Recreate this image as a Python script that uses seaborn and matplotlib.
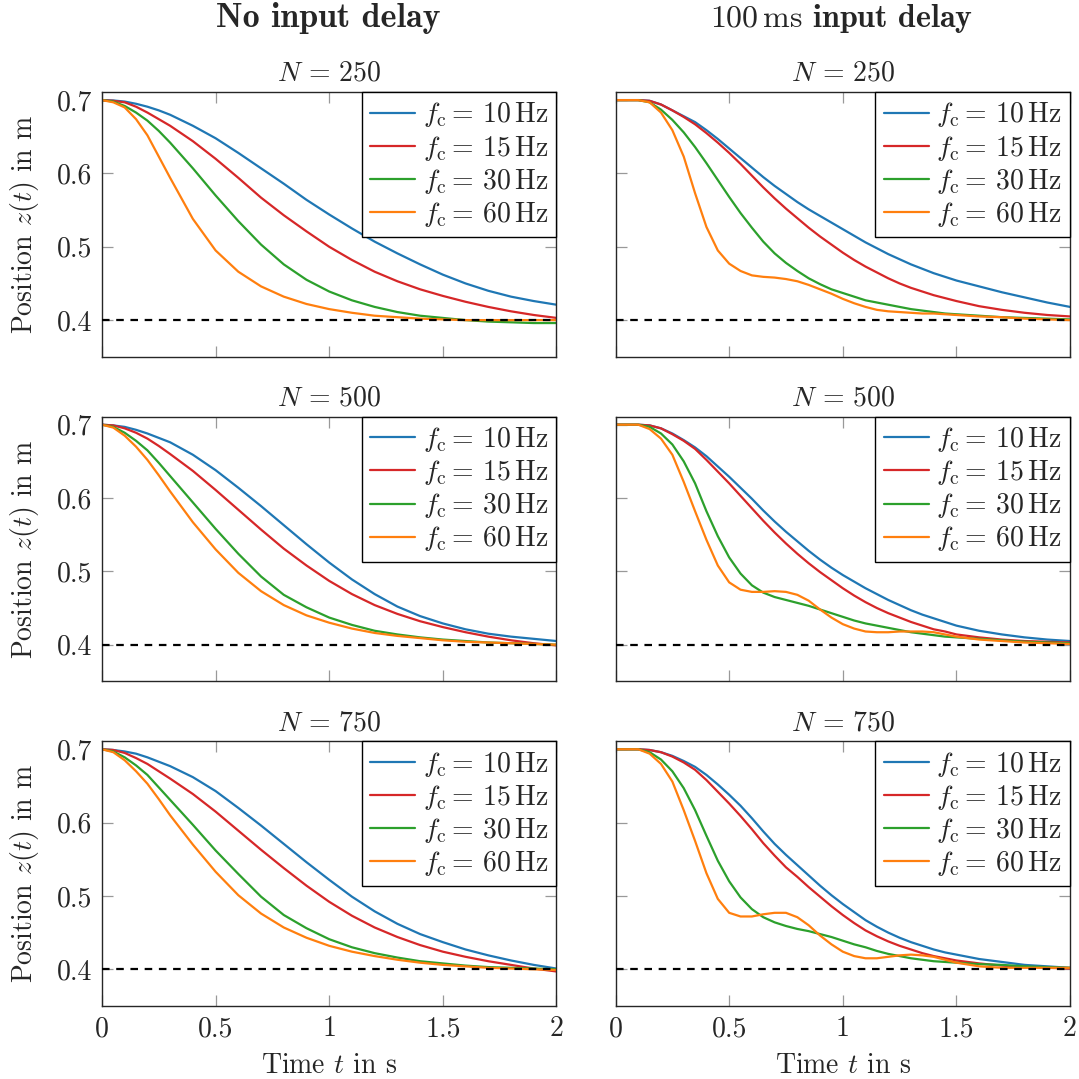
import matplotlib
matplotlib.use("Agg")
import matplotlib.pyplot as plt
import numpy as np
import pandas as pd
import seaborn as sb

# time grids (s)
t_nodelay = [0.0, 0.05, 0.1, 0.15, 0.2, 0.25, 0.3, 0.4, 0.5, 0.6, 0.7, 0.8, 0.9, 1.0,
             1.1, 1.2, 1.3, 1.4, 1.5, 1.6, 1.7, 1.8, 1.9, 2.0]
t_delay = [0.0, 0.05, 0.1, 0.15, 0.2, 0.25, 0.3, 0.35, 0.4, 0.45, 0.5,
           0.55, 0.6, 0.65, 0.7, 0.75, 0.8, 0.85, 0.9, 0.95, 1.0,
           1.05, 1.1, 1.15, 1.2, 1.25, 1.3, 1.35, 1.4, 1.45, 1.5,
           1.6, 1.7, 1.8, 1.9, 2.0]

freqs = [10, 15, 30, 60]
horizons = [250, 500, 750]
z_ref = 0.4

# no input delay
n250_f10 = [0.700, 0.6995, 0.698, 0.695, 0.691, 0.686, 0.680, 0.665, 0.648, 0.628, 0.607, 0.586,
            0.564, 0.544, 0.525, 0.507, 0.491, 0.476, 0.462, 0.450, 0.440, 0.432, 0.426, 0.421]
n250_f15 = [0.700, 0.699, 0.697, 0.691, 0.683, 0.674, 0.665, 0.644, 0.620, 0.594, 0.567, 0.543,
            0.521, 0.500, 0.482, 0.466, 0.453, 0.442, 0.433, 0.425, 0.418, 0.412, 0.407, 0.403]
n250_f30 = [0.700, 0.698, 0.692, 0.683, 0.672, 0.658, 0.642, 0.607, 0.570, 0.535, 0.503, 0.476,
            0.455, 0.439, 0.427, 0.418, 0.411, 0.406, 0.403, 0.400, 0.398, 0.397, 0.396, 0.396]
n250_f60 = [0.700, 0.697, 0.690, 0.674, 0.652, 0.623, 0.594, 0.538, 0.495, 0.466, 0.446, 0.432,
            0.422, 0.415, 0.410, 0.406, 0.404, 0.402, 0.401, 0.400, 0.400, 0.400, 0.400, 0.400]

n500_f10 = [0.700, 0.699, 0.697, 0.693, 0.688, 0.682, 0.676, 0.659, 0.638, 0.614, 0.589, 0.563,
            0.537, 0.512, 0.489, 0.469, 0.452, 0.439, 0.429, 0.421, 0.415, 0.411, 0.408, 0.405]
n500_f15 = [0.700, 0.699, 0.695, 0.689, 0.681, 0.671, 0.660, 0.637, 0.611, 0.584, 0.557, 0.531,
            0.508, 0.487, 0.469, 0.454, 0.442, 0.432, 0.424, 0.417, 0.411, 0.406, 0.402, 0.399]
n500_f30 = [0.700, 0.697, 0.689, 0.678, 0.665, 0.648, 0.630, 0.594, 0.558, 0.524, 0.493, 0.468,
            0.451, 0.437, 0.427, 0.419, 0.414, 0.410, 0.407, 0.405, 0.403, 0.402, 0.401, 0.400]
n500_f60 = [0.700, 0.696, 0.685, 0.670, 0.652, 0.631, 0.609, 0.567, 0.530, 0.498, 0.473, 0.454,
            0.440, 0.430, 0.422, 0.416, 0.412, 0.409, 0.406, 0.404, 0.403, 0.402, 0.401, 0.400]

n750_f10 = [0.700, 0.699, 0.697, 0.694, 0.689, 0.683, 0.677, 0.662, 0.643, 0.620, 0.596, 0.571,
            0.546, 0.522, 0.499, 0.479, 0.462, 0.448, 0.437, 0.427, 0.419, 0.412, 0.406, 0.401]
n750_f15 = [0.700, 0.699, 0.695, 0.688, 0.680, 0.670, 0.660, 0.639, 0.615, 0.589, 0.563, 0.538,
            0.514, 0.492, 0.473, 0.457, 0.444, 0.433, 0.424, 0.417, 0.411, 0.406, 0.401, 0.397]
n750_f30 = [0.700, 0.697, 0.689, 0.678, 0.665, 0.648, 0.631, 0.597, 0.562, 0.530, 0.499, 0.474,
            0.456, 0.441, 0.430, 0.422, 0.416, 0.411, 0.408, 0.405, 0.403, 0.402, 0.401, 0.400]
n750_f60 = [0.700, 0.696, 0.685, 0.670, 0.653, 0.632, 0.610, 0.570, 0.533, 0.501, 0.476, 0.457,
            0.443, 0.432, 0.424, 0.418, 0.413, 0.409, 0.406, 0.404, 0.402, 0.401, 0.400, 0.399]

# 100 ms input delay
d250_f10 = [0.700, 0.700, 0.700, 0.699, 0.694, 0.686, 0.678, 0.670, 0.659, 0.647, 0.634,
            0.621, 0.608, 0.595, 0.583, 0.572, 0.561, 0.551, 0.542, 0.533, 0.524,
            0.515, 0.506, 0.498, 0.490, 0.483, 0.476, 0.470, 0.464, 0.459, 0.454,
            0.446, 0.438, 0.431, 0.424, 0.418]
d250_f15 = [0.700, 0.700, 0.700, 0.699, 0.694, 0.686, 0.677, 0.667, 0.655, 0.642, 0.628,
            0.613, 0.597, 0.581, 0.566, 0.552, 0.539, 0.526, 0.514, 0.503, 0.492,
            0.482, 0.473, 0.465, 0.457, 0.450, 0.444, 0.439, 0.434, 0.430, 0.426,
            0.419, 0.414, 0.410, 0.407, 0.405]
d250_f30 = [0.700, 0.700, 0.700, 0.697, 0.687, 0.673, 0.656, 0.636, 0.614, 0.591, 0.568,
            0.546, 0.526, 0.507, 0.491, 0.478, 0.467, 0.457, 0.449, 0.442, 0.437,
            0.432, 0.427, 0.424, 0.421, 0.418, 0.415, 0.413, 0.411, 0.409, 0.408,
            0.406, 0.404, 0.403, 0.402, 0.401]
d250_f60 = [0.700, 0.700, 0.700, 0.697, 0.683, 0.659, 0.623, 0.573, 0.527, 0.495, 0.477,
            0.467, 0.461, 0.459, 0.458, 0.456, 0.453, 0.448, 0.442, 0.436, 0.429,
            0.423, 0.418, 0.414, 0.412, 0.411, 0.410, 0.409, 0.409, 0.408, 0.407,
            0.405, 0.404, 0.402, 0.401, 0.400]

d500_f10 = [0.700, 0.700, 0.700, 0.699, 0.695, 0.688, 0.679, 0.669, 0.657, 0.643, 0.629,
            0.614, 0.599, 0.583, 0.568, 0.554, 0.541, 0.528, 0.516, 0.505, 0.495,
            0.486, 0.477, 0.469, 0.461, 0.454, 0.447, 0.441, 0.436, 0.431, 0.426,
            0.419, 0.414, 0.410, 0.407, 0.405]
d500_f15 = [0.700, 0.700, 0.700, 0.699, 0.695, 0.687, 0.678, 0.667, 0.652, 0.636, 0.620,
            0.603, 0.586, 0.569, 0.553, 0.538, 0.524, 0.511, 0.499, 0.488, 0.477,
            0.467, 0.458, 0.450, 0.443, 0.437, 0.431, 0.426, 0.421, 0.418, 0.414,
            0.410, 0.407, 0.405, 0.404, 0.403]
d500_f30 = [0.700, 0.700, 0.700, 0.697, 0.688, 0.673, 0.650, 0.620, 0.582, 0.548, 0.519,
            0.497, 0.481, 0.471, 0.465, 0.461, 0.457, 0.453, 0.448, 0.443, 0.438,
            0.433, 0.429, 0.426, 0.423, 0.420, 0.417, 0.415, 0.413, 0.411, 0.410,
            0.408, 0.406, 0.404, 0.403, 0.402]
d500_f60 = [0.700, 0.700, 0.700, 0.694, 0.681, 0.659, 0.622, 0.582, 0.543, 0.508, 0.485,
            0.475, 0.472, 0.472, 0.473, 0.472, 0.468, 0.460, 0.448, 0.437, 0.428,
            0.422, 0.418, 0.417, 0.417, 0.418, 0.418, 0.418, 0.417, 0.414, 0.411,
            0.407, 0.405, 0.403, 0.402, 0.401]

d750_f10 = [0.700, 0.700, 0.700, 0.699, 0.696, 0.691, 0.684, 0.676, 0.665, 0.652, 0.638,
            0.623, 0.606, 0.588, 0.571, 0.556, 0.542, 0.528, 0.514, 0.501, 0.489,
            0.478, 0.467, 0.458, 0.450, 0.443, 0.437, 0.432, 0.427, 0.423, 0.420,
            0.414, 0.410, 0.406, 0.404, 0.402]
d750_f15 = [0.700, 0.700, 0.700, 0.699, 0.696, 0.690, 0.682, 0.672, 0.658, 0.642, 0.626,
            0.609, 0.591, 0.572, 0.555, 0.539, 0.526, 0.512, 0.499, 0.486, 0.474,
            0.463, 0.453, 0.445, 0.438, 0.432, 0.427, 0.422, 0.418, 0.415, 0.412,
            0.408, 0.405, 0.403, 0.402, 0.401]
d750_f30 = [0.700, 0.700, 0.700, 0.696, 0.686, 0.670, 0.647, 0.617, 0.582, 0.548, 0.520,
            0.498, 0.482, 0.471, 0.464, 0.459, 0.455, 0.452, 0.448, 0.444, 0.439,
            0.434, 0.430, 0.425, 0.421, 0.418, 0.415, 0.413, 0.411, 0.410, 0.409,
            0.407, 0.406, 0.404, 0.403, 0.402]
d750_f60 = [0.700, 0.700, 0.700, 0.694, 0.680, 0.656, 0.617, 0.575, 0.531, 0.496, 0.477,
            0.472, 0.472, 0.475, 0.477, 0.477, 0.471, 0.460, 0.446, 0.434, 0.424,
            0.418, 0.415, 0.415, 0.417, 0.419, 0.420, 0.419, 0.417, 0.413, 0.409,
            0.404, 0.402, 0.402, 0.402, 0.402]

nodelay = {250: [n250_f10, n250_f15, n250_f30, n250_f60],
           500: [n500_f10, n500_f15, n500_f30, n500_f60],
           750: [n750_f10, n750_f15, n750_f30, n750_f60]}
delay = {250: [d250_f10, d250_f15, d250_f30, d250_f60],
         500: [d500_f10, d500_f15, d500_f30, d500_f60],
         750: [d750_f10, d750_f15, d750_f30, d750_f60]}

colors = ["#1f77b4", "#d62728", "#2ca02c", "#ff7f0e"]
FS = 20

sb.set_theme(style="ticks")
plt.rcParams["mathtext.fontset"] = "cm"
plt.rcParams["font.family"] = ["cmr10", "DejaVu Serif"]
plt.rcParams["axes.unicode_minus"] = False
plt.rcParams["axes.formatter.use_mathtext"] = True


def long_frame(t, series):
    rows = []
    for fc, z in zip(freqs, series):
        rows.append(pd.DataFrame({"t": t, "z": z, "fc": fc}))
    return pd.concat(rows, ignore_index=True)


fig, axes = plt.subplots(3, 2, figsize=(10.79, 10.79), dpi=100)
fig.subplots_adjust(left=0.0945, right=0.9917, top=0.9147, bottom=0.0677,
                    wspace=0.13, hspace=0.226)

for i, N in enumerate(horizons):
    for j, (t, data) in enumerate([(t_nodelay, nodelay), (t_delay, delay)]):
        ax = axes[i, j]
        df = long_frame(t, data[N])
        sb.lineplot(data=df, x="t", y="z", hue="fc", hue_order=freqs,
                    palette=colors, linewidth=1.6, legend=False,
                    errorbar=None, ax=ax)
        ax.axhline(z_ref, color="black", linewidth=1.6, linestyle=(0, (3.4, 3.0)),
                   zorder=5)

        ax.set_xlim(0, 2)
        ax.set_ylim(0.35, 0.711)
        ax.set_xticks([0, 0.5, 1, 1.5, 2])
        ax.set_yticks([0.4, 0.5, 0.6, 0.7])
        if i == 2:
            ax.set_xticklabels(["0", "0.5", "1", "1.5", "2"])
            ax.set_xlabel("Time $t$ in s", fontsize=FS)
            ax.xaxis.set_label_coords(0.5, -0.175)
        else:
            ax.set_xticklabels([])
            ax.set_xlabel("")
        if j == 0:
            ax.set_yticklabels(["0.4", "0.5", "0.6", "0.7"])
            ax.set_ylabel("Position $z(t)$ in m", fontsize=FS)
            ax.yaxis.set_label_coords(-0.134, 0.5)
        else:
            ax.set_yticklabels([])
            ax.set_ylabel("")

        ax.tick_params(axis="both", direction="in", top=True, right=True,
                       length=8, width=0.9, color="0.6", labelsize=FS, pad=7)
        for sp in ax.spines.values():
            sp.set_color("0.15")
            sp.set_linewidth(1.0)

        ax.set_title(rf"$N\,=\,{N}$", fontsize=FS, pad=8)

        labels = [rf"$f_{{\mathrm{{c}}}} =\,{fc}\,\mathrm{{Hz}}$" for fc in freqs]
        leg = ax.legend(ax.get_lines()[:4], labels, loc="upper right",
                        borderaxespad=0, fancybox=False, framealpha=1,
                        edgecolor="black", fontsize=FS, handlelength=1.62,
                        handletextpad=0.28, borderpad=0.3, labelspacing=0.15)
        leg.get_frame().set_linewidth(1.0)

fig.text(0.3045, 0.983, "No input delay", ha="center", va="center",
         fontsize=24.5, family=["cmb10", "DejaVu Serif"])
fig.text(0.780, 0.983, r"$100\,\mathrm{ms}$ input delay", ha="center",
         va="center", fontsize=23, family=["cmb10", "DejaVu Serif"])

plt.savefig("out.png", dpi=100)
